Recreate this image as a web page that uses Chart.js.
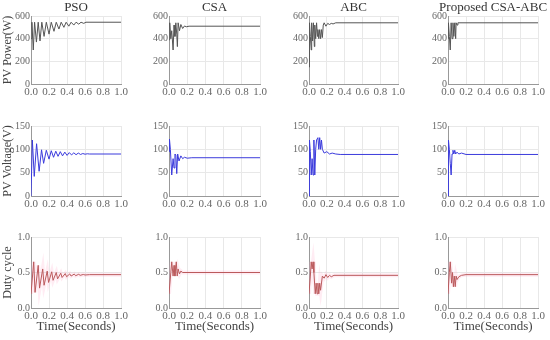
<!DOCTYPE html>
<html>
<head>
<meta charset="utf-8">
<script src="https://cdn.jsdelivr.net/npm/chart.js@4/dist/chart.umd.min.js"></script>
<style>
  body { margin: 0; background: #fff; }
  #wrap { position: relative; width: 550px; height: 340px; overflow: hidden; }
  #wrap canvas { position: absolute; }
</style>
</head>
<body>
<div id="wrap"></div>
<script>
// panel titles and axis labels
const methods = ['PSO', 'CSA', 'ABC', 'Proposed CSA-ABC'];
const rowLabels = ['PV Power(W)', 'PV Voltage(V)', 'Duty cycle'];
const xTitle = 'Time(Seconds)';
const xTicks = [0, 0.2, 0.4, 0.6, 0.8, 1.0];
const yTicks = [[0, 200, 400, 600], [0, 50, 100, 150], [0, 0.5, 1.0]];

// [time (s), value]
const psoPower = [[0,400],[0.01,545],[0.025,300],[0.04,545],[0.06,370],[0.08,545],[0.1,380],[0.12,545],[0.145,420],[0.17,545],[0.2,440],[0.225,545],[0.255,465],[0.28,545],[0.31,485],[0.335,545],[0.365,500],[0.39,545],[0.42,510],[0.445,545],[0.475,520],[0.5,545],[0.53,528],[0.555,545],[0.585,535],[0.61,545],[1,545]];
const csaPower = [[0,390],[0.008,540],[0.02,400],[0.03,470],[0.045,300],[0.055,520],[0.065,420],[0.075,540],[0.085,440],[0.092,330],[0.1,540],[0.115,470],[0.13,525],[0.15,490],[0.17,512],[0.19,505],[0.22,510],[1,510]];
const abcPower = [[0,150],[0.005,540],[0.015,420],[0.025,300],[0.03,540],[0.04,380],[0.05,540],[0.06,330],[0.065,520],[0.075,400],[0.085,540],[0.095,420],[0.1,480],[0.11,400],[0.12,480],[0.13,400],[0.14,480],[0.15,410],[0.16,520],[0.17,540],[0.19,510],[0.21,535],[0.23,525],[0.25,535],[0.27,530],[0.3,540],[1,540]];
const propPower = [[0,400],[0.005,540],[0.015,420],[0.025,300],[0.035,540],[0.045,400],[0.055,540],[0.065,420],[0.075,540],[0.085,400],[0.09,540],[0.1,520],[0.11,540],[1,540]];

const psoVoltage = [[0,0],[0.015,120],[0.036,42],[0.062,112],[0.09,53],[0.117,99],[0.14,70],[0.17,98],[0.2,79],[0.225,97],[0.25,83],[0.275,96],[0.3,85],[0.325,95],[0.35,86],[0.375,94],[0.4,87],[0.425,93],[0.45,88],[0.475,92.5],[0.5,88.5],[0.525,92],[0.55,89],[0.575,91],[0.6,89.5],[0.625,90.5],[0.65,90],[1,90]];
const csaVoltage = [[0,95],[0.005,122],[0.015,100],[0.03,45],[0.045,80],[0.055,60],[0.065,90],[0.075,88],[0.085,48],[0.095,90],[0.11,75],[0.13,86],[0.15,80],[0.17,83],[0.2,81],[0.25,82],[1,82]];
const abcVoltage = [[0,0],[0.005,120],[0.015,95],[0.025,45],[0.035,80],[0.045,45],[0.055,120],[0.065,45],[0.075,100],[0.085,120],[0.1,125],[0.11,100],[0.12,125],[0.13,100],[0.14,120],[0.15,100],[0.17,92],[0.2,95],[0.23,90],[0.26,92],[0.3,90],[0.35,89],[1,89]];
const propVoltage = [[0,0],[0.005,120],[0.015,100],[0.025,70],[0.035,45],[0.045,90],[0.055,98],[0.065,90],[0.075,98],[0.085,90],[0.1,94],[0.12,90],[0.15,92],[0.2,89],[1,89]];

const psoDuty = [[0,0.2],[0.03,0.65],[0.045,0.22],[0.08,0.6],[0.095,0.28],[0.13,0.55],[0.145,0.32],[0.18,0.52],[0.195,0.36],[0.23,0.51],[0.245,0.39],[0.28,0.5],[0.295,0.41],[0.33,0.49],[0.345,0.43],[0.38,0.485],[0.395,0.44],[0.43,0.48],[0.445,0.45],[0.48,0.478],[0.495,0.455],[0.53,0.475],[0.545,0.46],[0.58,0.472],[0.6,0.465],[0.65,0.47],[1,0.47]];
const csaDuty = [[0,0.2],[0.02,0.5],[0.03,0.65],[0.045,0.45],[0.055,0.6],[0.065,0.45],[0.08,0.65],[0.09,0.45],[0.1,0.55],[0.115,0.48],[0.13,0.52],[0.15,0.5],[1,0.5]];
const abcDuty = [[0,0.2],[0.015,0.45],[0.025,0.65],[0.035,0.55],[0.045,0.65],[0.055,0.5],[0.07,0.2],[0.08,0.35],[0.09,0.2],[0.1,0.35],[0.11,0.2],[0.12,0.35],[0.13,0.25],[0.15,0.45],[0.17,0.42],[0.19,0.47],[0.21,0.43],[0.23,0.46],[0.25,0.44],[0.28,0.46],[1,0.46]];
const propDuty = [[0,0.2],[0.015,0.5],[0.025,0.65],[0.04,0.35],[0.05,0.5],[0.06,0.3],[0.07,0.45],[0.08,0.3],[0.09,0.45],[0.1,0.4],[0.12,0.44],[0.15,0.46],[0.2,0.47],[1,0.47]];

const grid = [
  [psoPower, csaPower, abcPower, propPower],
  [psoVoltage, csaVoltage, abcVoltage, propVoltage],
  [psoDuty, csaDuty, abcDuty, propDuty]
];
const lineColors = ['#555555', '#3b3bdc', '#a8443e'];

// plot area edges on the page
const colLeft = [31, 169, 309, 448];
const colRight = [122, 261, 399, 539];
const rowTop = [16, 126, 237];
const rowBottom = [84, 196, 308];

const serif = "'Liberation Serif', 'DejaVu Serif', serif";
const wrap = document.getElementById('wrap');

function toXY(pairs) {
    return pairs.map(p => ({ x: p[0], y: p[1] }));
}

// panel title centred over the plot area, never squeezed
const panelTitle = {
    id: 'panelTitle',
    afterDraw(chart, args, opts) {
        if (!opts.text) return;
        const a = chart.chartArea;
        const ctx = chart.ctx;
        ctx.save();
        ctx.font = '13px ' + serif;
        ctx.fillStyle = '#333';
        ctx.textAlign = 'center';
        ctx.textBaseline = 'middle';
        ctx.fillText(opts.text, (a.left + a.right) / 2, 8);
        ctx.restore();
    }
};

for (let r = 0; r < 3; r++) {
    for (let c = 0; c < 4; c++) {
        const axisW = 31;
        const xH = r === 2 ? 30 : 14;
        const w = colRight[c] - colLeft[c] + axisW + 8;
        const h = rowBottom[r] - rowTop[r] + 16 + xH;

        const canvas = document.createElement('canvas');
        canvas.width = w;
        canvas.height = h;
        canvas.style.left = (colLeft[c] - axisW) + 'px';
        canvas.style.top = (rowTop[r] - 16) + 'px';
        wrap.appendChild(canvas);

        const yt = yTicks[r];
        const datasets = [{
            data: toXY(grid[r][c]),
            borderColor: lineColors[r],
            borderWidth: 1,
            pointRadius: 0,
            tension: 0
        }];
        if (r === 2) {
            // faint pink halo that the duty-cycle traces have
            datasets.unshift({
                data: toXY(grid[r][c]),
                borderColor: 'rgba(255, 170, 200, 0.22)',
                borderWidth: 4,
                pointRadius: 0,
                tension: 0
            });
        }

        new Chart(canvas.getContext('2d'), {
            type: 'line',
            data: { datasets: datasets },
            plugins: [panelTitle],
            options: {
                responsive: false,
                animation: false,
                devicePixelRatio: 1,
                layout: { padding: { top: 16, right: 8, left: 0, bottom: 0 } },
                plugins: {
                    legend: { display: false },
                    tooltip: { enabled: false },
                    panelTitle: { text: r === 0 ? methods[c] : '' }
                },
                scales: {
                    x: {
                        type: 'linear',
                        min: 0,
                        max: 1,
                        afterBuildTicks: s => { s.ticks = xTicks.map(v => ({ value: v })); },
                        afterFit: s => { s.height = xH; },
                        ticks: {
                            color: '#666',
                            padding: 2,
                            font: { family: serif, size: 11 },
                            maxRotation: 0,
                            callback: v => v.toFixed(1)
                        },
                        grid: { color: '#e8e8e8', drawTicks: false },
                        border: { color: '#999' },
                        title: {
                            display: r === 2,
                            text: xTitle,
                            color: '#444',
                            font: { family: serif, size: 13 },
                            padding: { top: 0, bottom: 4 }
                        }
                    },
                    y: {
                        min: yt[0],
                        max: yt[yt.length - 1],
                        afterBuildTicks: s => { s.ticks = yt.map(v => ({ value: v })); },
                        afterFit: s => { s.width = axisW; },
                        ticks: {
                            color: '#666',
                            padding: 1,
                            font: { family: serif, size: 10 },
                            callback: v => r === 2 ? v.toFixed(1) : String(v)
                        },
                        grid: { color: '#e8e8e8', drawTicks: false },
                        border: { color: '#999' },
                        title: {
                            display: c === 0,
                            text: rowLabels[r],
                            color: '#444',
                            font: { family: serif, size: 12 },
                            padding: { top: 1, bottom: 0 }
                        }
                    }
                }
            }
        });
    }
}
</script>
</body>
</html>
